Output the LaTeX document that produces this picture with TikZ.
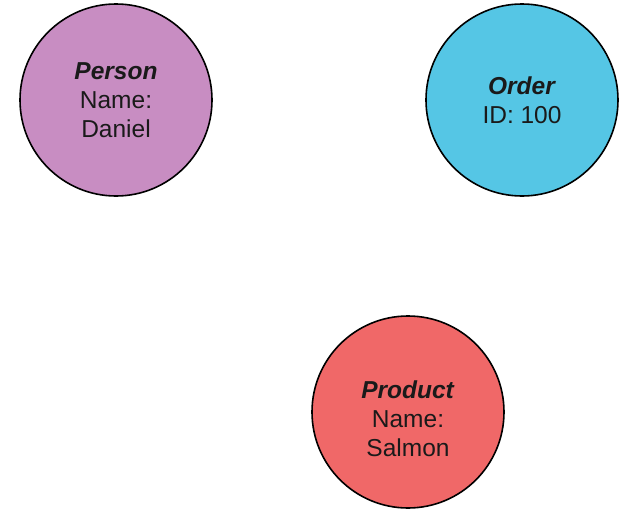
\documentclass[tikz,border=0pt]{standalone}
\usepackage{fontspec}
\setmainfont{Liberation Sans}
\definecolor{personc}{HTML}{C88DC2}
\definecolor{orderc}{HTML}{55C6E5}
\definecolor{productc}{HTML}{F06868}
\definecolor{txt}{HTML}{1A1A1A}
\begin{document}
\begin{tikzpicture}[x=1pt,y=-1pt,
  entity/.style={circle,draw=black,line width=1.6pt,minimum size=192pt,inner sep=0pt,
    align=center,text=txt,font=\fontsize{24.5}{29}\selectfont},
  entitytext/.style={align=center,text=txt,font=\fontsize{24.5}{29}\selectfont}]
\useasboundingbox (0,0) rectangle (638,514);
\node[entity,fill=personc] (person) at (116,100) {\textbf{\textit{Person}}\\Name:\\Daniel};
\node[entity,fill=orderc] (order) at (522,100) {\textbf{\textit{Order}}\\ID: 100};
\node[entity,fill=productc] (product) at (408,412) {};
\node[entitytext] (producttext) at (408,419) {\textbf{\textit{Product}}\\Name:\\Salmon};
\end{tikzpicture}
\end{document}
